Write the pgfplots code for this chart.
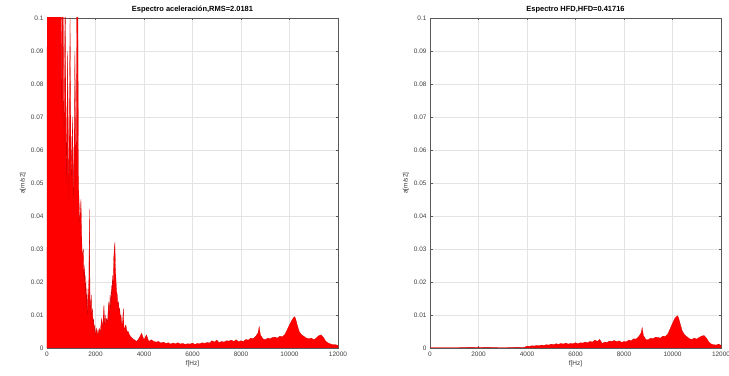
\documentclass[border=0pt]{standalone}
\usepackage{pgfplots}
\pgfplotsset{compat=1.18}
\usepackage{pgfplotstable}
\usepackage{fontspec}
\setmainfont{Liberation Sans}

\pgfplotstableread{
f a
0 0.03
25 0.4
50 0.15
75 0.5
100 0.2
150 0.45
200 0.18
250 0.4
300 0.15
350 0.35
400 0.12
450 0.3
500 0.1
550 0.25
600 0.07
650 0.14
700 0.06
750 0.11
800 0.05
850 0.09
900 0.045
950 0.1
1000 0.05
1050 0.07
1100 0.045
1150 0.09
1200 0.05
1250 0.15
1300 0.05
1350 0.038
1400 0.045
1450 0.028
1500 0.03
1525 0.02
1550 0.025
1575 0.015
1600 0.022
1625 0.012
1650 0.018
1675 0.01
1700 0.016
1725 0.02
1750 0.042
1775 0.015
1800 0.012
1825 0.016
1850 0.01
1875 0.012
1900 0.007
1925 0.009
1950 0.005
1975 0.007
2000 0.004
2050 0.006
2100 0.004
2150 0.006
2200 0.005
2250 0.009
2300 0.006
2325 0.011
2350 0.013
2375 0.007
2400 0.01
2425 0.007
2450 0.009
2500 0.008
2525 0.012
2550 0.014
2575 0.01
2600 0.016
2625 0.012
2650 0.019
2675 0.014
2700 0.022
2725 0.018
2750 0.027
2775 0.03
2800 0.032
2825 0.024
2850 0.02
2875 0.017
2900 0.016
2925 0.013
2950 0.014
2975 0.011
3000 0.012
3025 0.009
3050 0.01
3075 0.008
3100 0.007
3125 0.009
3150 0.012
3175 0.006
3200 0.006
3250 0.007
3300 0.005
3350 0.005
3400 0.004
3450 0.0035
3500 0.003
3600 0.0025
3700 0.002
3800 0.003
3900 0.0045
4000 0.0025
4100 0.004
4200 0.002
4300 0.0025
4400 0.002
4500 0.0018
4600 0.002
4700 0.0015
4800 0.0018
4900 0.0014
5000 0.0016
5100 0.0012
5200 0.0015
5300 0.0013
5400 0.0016
5500 0.0012
5600 0.0014
5700 0.0011
5800 0.0013
5900 0.0012
6000 0.0015
6100 0.0011
6200 0.0014
6300 0.0013
6400 0.0016
6500 0.0014
6600 0.0017
6700 0.0015
6800 0.0022
6900 0.0018
7000 0.0024
7100 0.0016
7200 0.002
7300 0.0018
7400 0.0022
7500 0.0021
7600 0.0024
7700 0.002
7800 0.0025
7900 0.0019
8000 0.0022
8100 0.002
8200 0.0026
8300 0.0024
8400 0.003
8500 0.0028
8600 0.0035
8700 0.0045
8750 0.0065
8800 0.004
8900 0.0028
9000 0.0025
9100 0.003
9200 0.0028
9300 0.0032
9400 0.0033
9500 0.003
9600 0.0036
9700 0.0034
9800 0.004
9900 0.0055
10000 0.007
10100 0.0085
10200 0.0095
10250 0.009
10300 0.0075
10400 0.005
10500 0.004
10600 0.0035
10700 0.003
10800 0.0028
10900 0.003
11000 0.0025
11100 0.003
11200 0.0037
11300 0.004
11400 0.0032
11500 0.002
11600 0.0015
11700 0.0012
11800 0.001
11900 0.001
12000 0.0008
}\accdata

\pgfplotstableread{
f a
0 0.0001
1000 0.0001
2000 0.0002
3000 0.0001
3900 0.0002
4000 0.0006
4100 0.0005
4200 0.0007
4300 0.0006
4400 0.0008
4500 0.0007
4600 0.0009
4700 0.0008
4800 0.001
4900 0.0009
5000 0.0012
5100 0.001
5200 0.0013
5300 0.0011
5400 0.0014
5500 0.0012
5600 0.0015
5700 0.0012
5800 0.0014
5900 0.0013
6000 0.0016
6100 0.0013
6200 0.0016
6300 0.0015
6400 0.0018
6500 0.0016
6600 0.002
6700 0.0018
6800 0.0024
6900 0.002
7000 0.0026
7100 0.0014
7200 0.0018
7300 0.0017
7400 0.0021
7500 0.002
7600 0.0023
7700 0.0019
7800 0.0022
7900 0.0017
8000 0.002
8100 0.0019
8200 0.0024
8300 0.0022
8400 0.0028
8500 0.0027
8600 0.0034
8700 0.0045
8750 0.0062
8800 0.0038
8900 0.0026
9000 0.0025
9100 0.003
9200 0.0028
9300 0.0033
9400 0.0032
9500 0.003
9600 0.0036
9700 0.0035
9800 0.0042
9900 0.0058
10000 0.0075
10100 0.009
10200 0.0098
10250 0.0092
10300 0.0078
10400 0.0052
10500 0.004
10600 0.0034
10700 0.0028
10800 0.0026
10900 0.003
11000 0.0027
11100 0.0032
11200 0.0036
11300 0.0038
11400 0.003
11500 0.0018
11600 0.0012
11700 0.001
11800 0.0009
11900 0.0012
12000 0.0008
}\hfddata

\pgfplotsset{
  spec/.style={
    scale only axis, width=291bp, height=330bp,
    xmin=0, xmax=12000, ymin=0, ymax=0.1,
    xtick={0,2000,...,12000},
    ytick={0,0.01,...,0.1},
    yticklabels={0,0.01,0.02,0.03,0.04,0.05,0.06,0.07,0.08,0.09,0.1},
    scaled x ticks=false, scaled y ticks=false,
    xticklabel style={/pgf/number format/.cd, 1000 sep={}, assume math mode=true},
    tick align=inside, tick pos=both,
    major tick length=2.5bp,
    grid=major, grid style={gray!22, line width=0.3pt},
    axis line style={gray!70!black, line width=0.4pt},
    tick style={gray!70!black},
    tick label style={font=\fontsize{6.5}{7}\selectfont, text=black!75},
    xlabel={f[Hz]}, ylabel={a[m/s2]},
    label style={font=\fontsize{6.5}{7}\selectfont, text=black!80},
    xlabel style={yshift=2bp},
    ylabel style={yshift=-2bp},
    title style={font=\bfseries\fontsize{7.5}{8}\selectfont, yshift=-5bp},
  },
  specplot/.style={fill=red, draw=red!80!black, line width=0.2pt},
}

\begin{document}
\begin{tikzpicture}
\begin{axis}[spec, at={(0,0)}, title={Espectro aceleración,RMS=2.0181}]
\addplot[specplot] table[x=f, y=a] {\accdata} \closedcycle;
\end{axis}
\begin{axis}[spec, at={(383bp,0)}, title={Espectro HFD,HFD=0.41716}]
\addplot[specplot] table[x=f, y=a] {\hfddata} \closedcycle;
\end{axis}
\pgfresetboundingbox
\useasboundingbox (-47bp,-28bp) rectangle (682bp,348bp);
\end{tikzpicture}
\end{document}
